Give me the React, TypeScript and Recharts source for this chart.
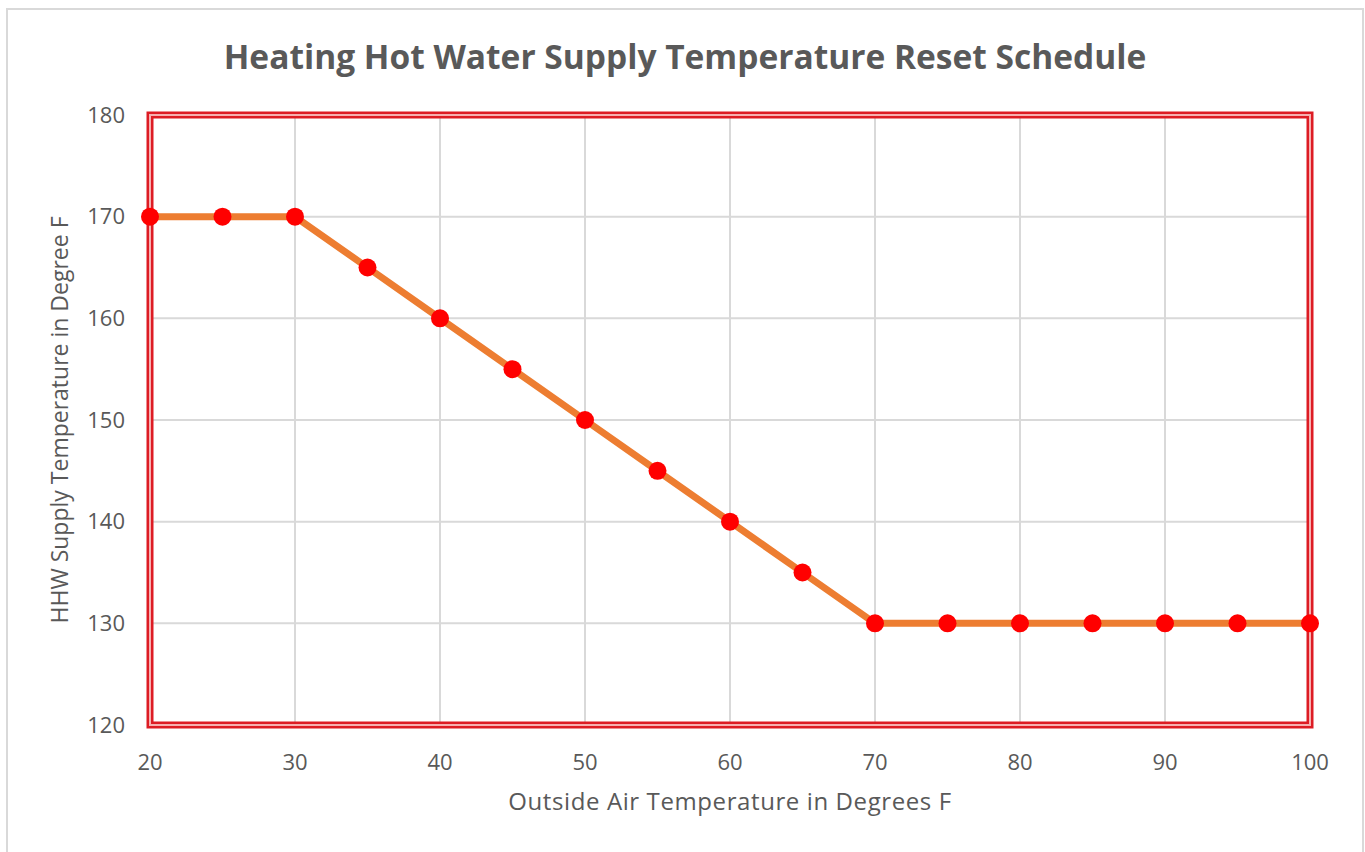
import React from "react"
import {
  LineChart, Line, XAxis, YAxis, CartesianGrid, ReferenceArea, Label,
} from "recharts"

const outsideTemps = [20, 25, 30, 35, 40, 45, 50, 55, 60, 65, 70, 75, 80, 85, 90, 95, 100]
const supplyTemps = [170, 170, 170, 165, 160, 155, 150, 145, 140, 135, 130, 130, 130, 130, 130, 130, 130]
const xTicks = [20, 30, 40, 50, 60, 70, 80, 90, 100]
const yTicks = [120, 130, 140, 150, 160, 170, 180]

const data = outsideTemps.map((t, i) => ({ oat: t, hhw: supplyTemps[i] }))

const FONT = "'Open Sans', sans-serif"
const GREY = "#595959"

export default function App() {
  return (
    <div style={{ position: "absolute", left: 0, top: 0, width: 1365, height: 852, overflow: "hidden", background: "#fff", fontFamily: FONT }}>
      <div style={{ position: "absolute", left: 6, top: 8, width: 1354, height: 900, border: "2px solid #d9d9d9" }} />
      <div style={{ position: "absolute", left: 0, top: 32, width: 1370, textAlign: "center", fontSize: 33.5, fontWeight: 700, color: GREY, lineHeight: "48px" }}>
        Heating Hot Water Supply Temperature Reset Schedule
      </div>
      <LineChart
        width={1365}
        height={852}
        data={data}
        margin={{ top: 115, right: 55, left: 0, bottom: 0 }}
        style={{ position: "absolute", left: 0, top: 0 }}
      >
        <CartesianGrid stroke="#d9d9d9" strokeWidth={2} />
        <XAxis
          dataKey="oat"
          type="number"
          domain={[20, 100]}
          ticks={xTicks}
          height={127}
          tickLine={false}
          axisLine={false}
          tickSize={0}
          tickMargin={29}
          tick={{ fill: GREY, fontSize: 22, fontFamily: FONT }}
        >
          <Label
            value="Outside Air Temperature in Degrees F"
            position="insideBottom"
            offset={42}
            style={{ fill: GREY, fontSize: 24, fontFamily: FONT, letterSpacing: 0.6 }}
          />
        </XAxis>
        <YAxis
          type="number"
          domain={[120, 180]}
          ticks={yTicks}
          width={150}
          tickLine={false}
          axisLine={false}
          tickSize={0}
          tickMargin={25}
          tick={{ fill: GREY, fontSize: 22, fontFamily: FONT }}
        >
          <Label
            value="HHW Supply Temperature in Degree F"
            angle={-90}
            position="insideLeft"
            offset={60}
            style={{ fill: GREY, fontSize: 23, fontFamily: FONT, textAnchor: "middle" }}
          />
        </YAxis>
        <ReferenceArea x1={20} x2={100} y1={120} y2={180} fill="none" stroke="#dd1c24" strokeWidth={7} ifOverflow="visible" />
        <ReferenceArea x1={20} x2={100} y1={120} y2={180} fill="none" stroke="#f6b0b0" strokeWidth={2} ifOverflow="visible" />
        <Line
          dataKey="hhw"
          type="linear"
          stroke="#ed7d31"
          strokeWidth={7}
          dot={{ r: 9, fill: "#ff0000", stroke: "none" }}
          activeDot={false}
          isAnimationActive={false}
        />
      </LineChart>
    </div>
  )
}
